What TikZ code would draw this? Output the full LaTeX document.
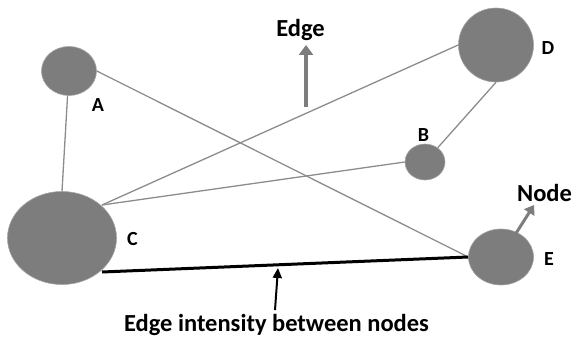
\documentclass[tikz,border=0pt]{standalone}
\usepackage{fontspec}
\setmainfont{Carlito}
\usetikzlibrary{arrows.meta,shapes.geometric}
\definecolor{nodegray}{HTML}{7D7D7D}
\definecolor{edgegray}{HTML}{8C8C8C}
\begin{document}
\begin{tikzpicture}[x=1pt,y=-1pt,
  vert/.style={ellipse, fill=nodegray, draw=nodegray!70, line width=0.6pt, inner sep=0pt},
  lab/.style={font=\bfseries\fontsize{20}{20}\selectfont, inner sep=0pt, anchor=base},
  big/.style={font=\bfseries\fontsize{24.5}{24.5}\selectfont, inner sep=0pt, anchor=base},
  gedge/.style={draw=edgegray, line width=1.3pt}]
\useasboundingbox (0,0) rectangle (575,337);
\node[vert, minimum width=55pt, minimum height=49pt] (A) at (69,71) {};
\node[vert, minimum width=75pt, minimum height=74pt] (D) at (496,45) {};
\node[vert, minimum width=40pt, minimum height=36pt] (B) at (425,162) {};
\node[vert, minimum width=109pt, minimum height=93pt] (C) at (62,238) {};
\node[vert, minimum width=65pt, minimum height=56pt] (E) at (501,257) {};
\node[lab] (lA) at (98,111) {A};
\node[lab] (lD) at (548,55) {D};
\node[lab] (lB) at (423.5,141) {B};
\node[lab] (lC) at (132.5,245) {C};
\node[lab] (lE) at (549,265) {E};
\node[big] (tEdge) at (300.5,37) {Edge};
\node[big] (tNode) at (544.5,201) {Node};
\node[big] (tInt) at (276.5,331) {Edge intensity between nodes};
% edges
\draw[gedge] (A) -- (C.north);
\draw[gedge] (A.east) -- (E.west);
\coordinate (cC) at (102,205);
\draw[gedge] (cC) -- (D.west);
\draw[gedge] (cC) -- (B.west);
\draw[gedge] (D.south) -- (B);
\coordinate (cCb) at (102,272);
\draw[black, line width=3pt] (cCb) -- (E.west);
% arrows
\coordinate (ea1) at (306,107);
\coordinate (ea2) at (306,45);
\draw[nodegray, line width=4pt, -{Triangle[length=10pt,width=14pt]}] (ea1) -- (ea2);
\coordinate (na1) at (513,238);
\coordinate (na2) at (534,205);
\draw[nodegray, line width=3pt, -{Triangle[length=9pt,width=12pt]}] (na1) -- (na2);
\coordinate (ia1) at (275,310);
\coordinate (ia2) at (278,268);
\draw[black, line width=2pt, -{Triangle[length=10pt,width=9pt]}] (ia1) -- (ia2);
\end{tikzpicture}
\end{document}
